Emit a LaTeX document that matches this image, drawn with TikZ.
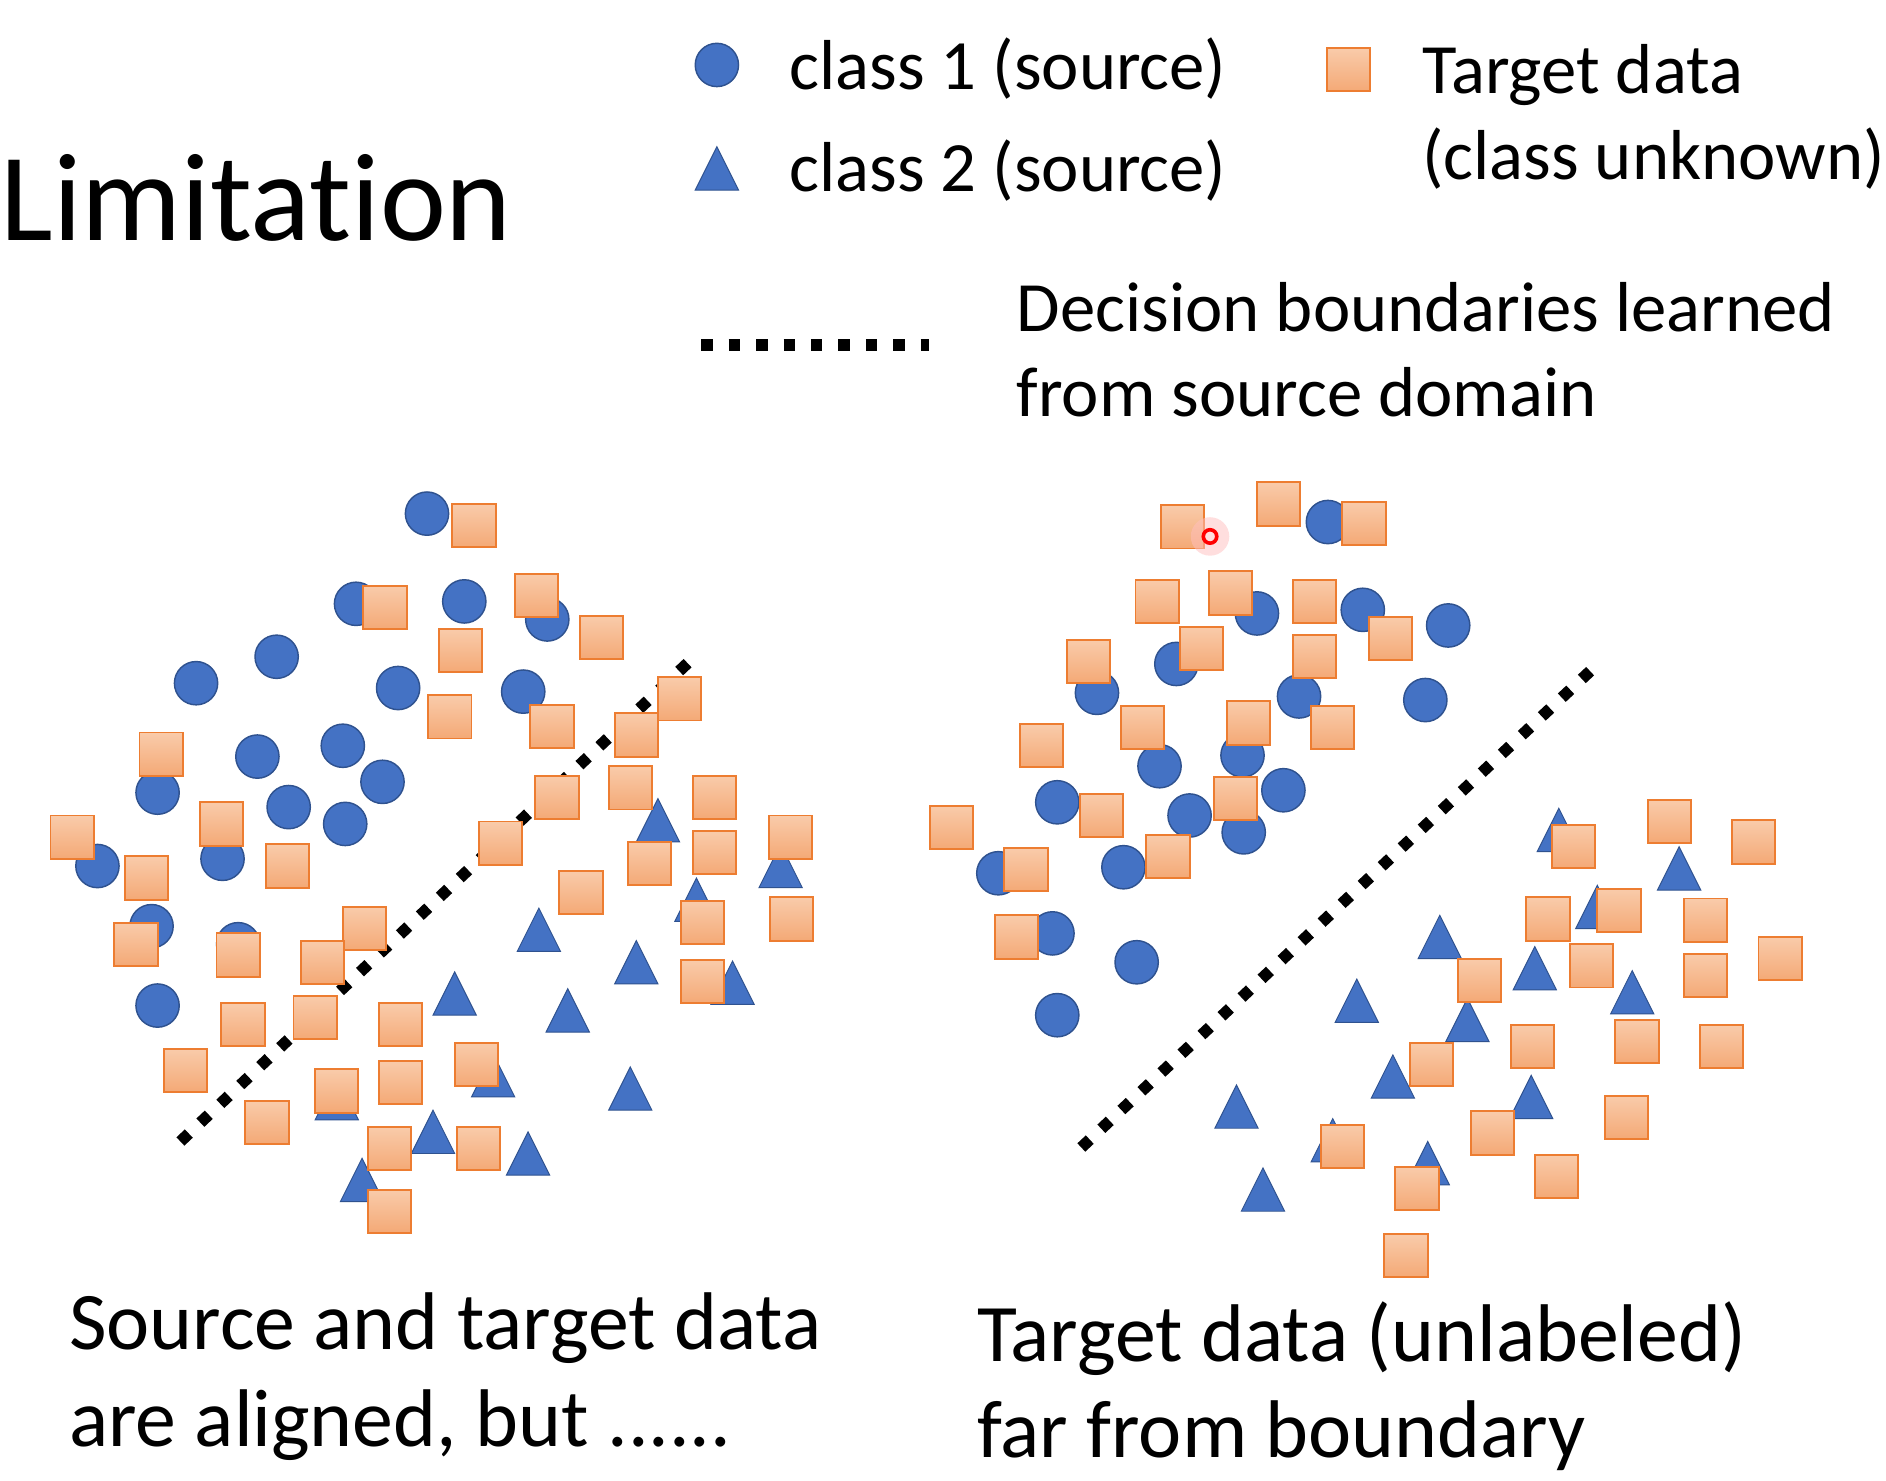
\documentclass[tikz,border=0pt]{standalone}
\usepackage{fontspec}
\setmainfont{Carlito}[Ligatures=NoCommon]
\usepackage{tikz}
\usetikzlibrary{positioning}

\definecolor{dotblue}{HTML}{4472C4}
\definecolor{dotedge}{HTML}{2F528F}
\definecolor{sqtop}{HTML}{F9CBAA}
\definecolor{sqbot}{HTML}{F4A976}
\definecolor{sqedge}{HTML}{ED7D31}

\tikzset{
  cls1/.style={fill=dotblue, draw=dotedge, line width=0.6pt},
  cls2/.style={fill=dotblue, draw=dotedge, line width=0.4pt},
  tgt/.style={top color=sqtop, bottom color=sqbot, draw=sqedge, line width=0.8pt},
  boundary/.style={line width=4.8pt, dash pattern=on 4.8pt off 6.6pt},
  lbl/.style={anchor=base west, inner sep=0pt},
  legendtxt/.style={lbl, font=\fontsize{29.4}{35}\selectfont},
  captiontxt/.style={lbl, font=\fontsize{34}{40}\selectfont}
}

\begin{document}
\begin{tikzpicture}[x=0.5pt, y=-0.5pt]

  \useasboundingbox[fill=white] (0,0) rectangle (1568,1231);

  % title
  \node[lbl, font=\fontsize{52}{62}\selectfont] (title) at (0,200) {Limitation};

  % legend
  \filldraw[cls1] (596,54) circle[radius=9pt];
  \filldraw[cls2] (596,140-18) -- ++(18,36) -- ++(-36,0) -- cycle;
  \draw[tgt] (1121-18,58-18) rectangle ++(36,36);
  \draw[boundary] (583,287) -- (772,287);
  \node[legendtxt] (leg1) at (656,74) {class 1 (source)};
  \node[legendtxt] (leg2) at (656,159) {class 2 (source)};
  \node[legendtxt] (leg3a) at (1182,78) {Target data};
  \node[legendtxt] (leg3b) at (1182,149) {(class unknown)};
  \node[legendtxt] (leg4a) at (845,276) {Decision boundaries learned};
  \node[legendtxt] (leg4b) at (845,346) {from source domain};

  % decision boundaries
  \draw[boundary] (150,949) -- (572,551);
  \draw[boundary] (899,954) -- (1322,558);

  % left: class 1
  \foreach \x/\y in {355/427, 296/502, 386/500, 455/515, 163/568, 230/546,
      331/572, 435/575, 214/629, 285/620, 318/650, 131/659, 240/671, 287/685,
      81/720, 185/714, 126/770, 131/836, 198/785}
    \filldraw[cls1] (\x,\y) circle[radius=9pt];

  % left: class 2
  \foreach \x/\y in {547/682, 649/720, 579/748, 448/773, 529/800, 609/817,
      378/826, 472/840, 410/894, 524/905, 280/913, 360/941, 439/959, 301/981}
    \filldraw[cls2] (\x,\y-18) -- ++(18,36) -- ++(-36,0) -- cycle;

  % left: target
  \foreach \x/\y in {394/437, 320/505, 446/495, 500/530, 383/541, 374/596,
      459/604, 565/581, 529/611, 134/627, 60/696, 184/685, 122/730, 239/720,
      463/663, 524/655, 594/663, 416/701, 540/718, 594/709, 657/696, 483/742,
      113/785, 198/794, 303/772, 268/800, 584/767, 658/764, 584/816, 202/852,
      262/846, 333/852, 154/890, 280/907, 333/900, 396/885, 222/933, 324/955,
      398/955, 324/1007}
    \draw[tgt] (\x-18,\y-18) rectangle ++(36,36);

  % right: class 1
  \foreach \x/\y in {1104/434, 1045/510, 1133/507, 1204/520, 1185/582,
      912/576, 978/552, 1080/579, 964/637, 1033/628, 879/667, 989/678,
      1067/657, 1034/692, 830/726, 934/721, 875/776, 945/800, 879/844}
    \filldraw[cls1] (\x,\y) circle[radius=9pt];

  % right: class 2
  \foreach \x/\y in {1296/690, 1396/722, 1328/754, 1197/779, 1276/805,
      1357/825, 1128/832, 1220/848, 1158/895, 1273/912, 1187/967, 1028/920,
      1050/989, 1108/948}
    \filldraw[cls2] (\x,\y-18) -- ++(18,36) -- ++(-36,0) -- cycle;

  % right: target
  \foreach \x/\y in {983/438, 1063/419, 1134/435, 962/500, 1023/493,
      1093/500, 1156/531, 905/550, 999/539, 1093/546, 866/620, 950/605,
      1038/601, 1108/605, 916/678, 1027/664, 791/688, 853/723, 971/712,
      845/779, 1116/953, 1308/704, 1388/683, 1458/700, 1287/764, 1346/757,
      1418/765, 1480/797, 1323/803, 1418/811, 1230/815, 1274/870, 1361/866,
      1431/870, 1190/885, 1241/942, 1352/929, 1178/988, 1294/978, 1169/1044}
    \draw[tgt] (\x-18,\y-18) rectangle ++(36,36);

  % pointer
  \fill[red!25, opacity=0.5] (1006,446) circle[radius=8pt];
  \draw[red, line width=1.5pt] (1006,446) circle[radius=2.8pt];

  % captions
  \node[captiontxt] (capl1) at (57,1122) {Source and target data};
  \node[captiontxt] (capl2) at (57,1203) {are aligned, but ......};
  \node[captiontxt] (capr1) at (812,1132) {Target data (unlabeled)};
  \node[captiontxt] (capr2) at (812,1212) {far from boundary};

\end{tikzpicture}
\end{document}
